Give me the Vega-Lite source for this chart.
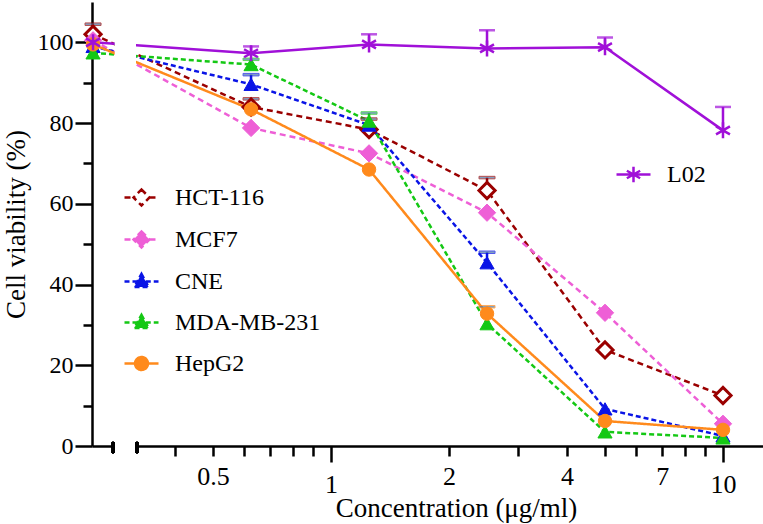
{
  "$schema": "https://vega.github.io/schema/vega-lite/v6.json",
  "width": 671,
  "height": 444,
  "autosize": {"type": "none"},
  "padding": {"left": 92, "top": 2, "right": 0, "bottom": 78},
  "background": "white",
  "config": {
    "view": {"stroke": null},
    "font": "Liberation Serif, Times New Roman, serif",
    "axis": {
      "grid": false,
      "domainColor": "black",
      "domainWidth": 2.5,
      "tickColor": "black",
      "tickWidth": 2.5,
      "labelColor": "black",
      "titleColor": "black",
      "labelFont": "Liberation Serif, Times New Roman, serif",
      "titleFont": "Liberation Serif, Times New Roman, serif",
      "labelFontSize": 24,
      "titleFontSize": 27,
      "titleFontWeight": "normal"
    },
    "legend": {
      "orient": "none",
      "labelFont": "Liberation Serif, Times New Roman, serif",
      "labelFontSize": 24,
      "labelColor": "black",
      "padding": 0,
      "rowPadding": 10,
      "labelOffset": 15,
      "symbolStrokeWidth": 2.5,
      "symbolSize": 1156
    }
  },
  "data": {
    "values": [
      {"s": "HCT-116", "c": 0.247, "v": 102, "hi": 104.5},
      {"s": "HCT-116", "c": 0.625, "v": 84, "hi": 86},
      {"s": "HCT-116", "c": 1.25, "v": 78.4, "hi": 81},
      {"s": "HCT-116", "c": 2.5, "v": 63.3, "hi": 66.5},
      {"s": "HCT-116", "c": 5, "v": 23.8},
      {"s": "HCT-116", "c": 10, "v": 12.5},
      {"s": "MCF7", "c": 0.247, "v": 100.5},
      {"s": "MCF7", "c": 0.625, "v": 78.8},
      {"s": "MCF7", "c": 1.25, "v": 72.5},
      {"s": "MCF7", "c": 2.5, "v": 57.8},
      {"s": "MCF7", "c": 5, "v": 33},
      {"s": "MCF7", "c": 10, "v": 5.5},
      {"s": "CNE", "c": 0.247, "v": 99},
      {"s": "CNE", "c": 0.625, "v": 89.6, "hi": 92},
      {"s": "CNE", "c": 1.25, "v": 79.5},
      {"s": "CNE", "c": 2.5, "v": 45.4, "hi": 48},
      {"s": "CNE", "c": 5, "v": 9.2},
      {"s": "CNE", "c": 10, "v": 2.5},
      {"s": "MDA-MB-231", "c": 0.247, "v": 97.4},
      {"s": "MDA-MB-231", "c": 0.625, "v": 94.5, "hi": 95.8},
      {"s": "MDA-MB-231", "c": 1.25, "v": 80.5, "hi": 82.5},
      {"s": "MDA-MB-231", "c": 2.5, "v": 30.3},
      {"s": "MDA-MB-231", "c": 5, "v": 3.5},
      {"s": "MDA-MB-231", "c": 10, "v": 2},
      {"s": "HepG2", "c": 0.247, "v": 99.5},
      {"s": "HepG2", "c": 0.625, "v": 83.4},
      {"s": "HepG2", "c": 1.25, "v": 68.5},
      {"s": "HepG2", "c": 2.5, "v": 32.8, "hi": 34.5},
      {"s": "HepG2", "c": 5, "v": 6.2},
      {"s": "HepG2", "c": 10, "v": 4},
      {"s": "L02", "c": 0.247, "v": 100},
      {"s": "L02", "c": 0.625, "v": 97.3, "hi": 99},
      {"s": "L02", "c": 1.25, "v": 99.5, "hi": 102},
      {"s": "L02", "c": 2.5, "v": 98.5, "hi": 103},
      {"s": "L02", "c": 5, "v": 98.8, "hi": 101.2},
      {"s": "L02", "c": 10, "v": 78.2, "hi": 84}
    ]
  },
  "encoding": {
    "x": {
      "field": "c",
      "type": "quantitative",
      "scale": {"type": "log", "domain": [0.2455, 12.65], "nice": false},
      "axis": {
        "title": "Concentration (μg/ml)",
        "values": [0.4, 0.5, 0.6, 0.7, 0.8, 0.9, 1, 2, 3, 4, 5, 6, 7, 8, 9, 10],
        "labelExpr": "indexof([0.5, 1, 2, 4, 7, 10], datum.value) >= 0 ? '' + datum.value : ''",
        "labelFontSize": 26,
        "tickSize": {"condition": {"test": "datum.value == 1 || datum.value == 10", "value": 16}, "value": 10},
        "labelPadding": {"condition": {"test": "datum.value == 1 || datum.value == 10", "value": 9}, "value": 7},
        "labelFlush": false,
        "labelOverlap": false,
        "titleX": 364,
        "titleY": 70,
        "titleAnchor": null,
        "titleAlign": "center",
        "titleBaseline": "alphabetic"
      }
    },
    "y": {
      "field": "v",
      "type": "quantitative",
      "scale": {"domain": [0, 110], "nice": false},
      "axis": {
        "title": "Cell viability (%)",
        "values": [0, 10, 20, 30, 40, 50, 60, 70, 80, 90, 100],
        "labelExpr": "datum.value % 20 == 0 ? datum.label : ''",
        "tickSize": {"condition": {"test": "datum.value % 20 == 0", "value": 17}, "value": 9},
        "labelPadding": 2,
        "titlePadding": 7,
        "labelFlush": false,
        "labelOverlap": false
      }
    }
  },
  "layer": [
    {
      "transform": [{"filter": "datum.c < 0"}],
      "mark": {"type": "point", "filled": true, "strokeWidth": 2.5, "opacity": 1},
      "encoding": {
        "shape": {"field": "s", "type": "nominal",
          "scale": {"domain": ["HCT-116", "MCF7", "CNE", "MDA-MB-231", "HepG2"],
            "range": [
              "M-1,0H-0.47M0.47,0H1M0,-0.47L0.47,0L0,0.47L-0.47,0Z",
              "M-1,0H-0.47M0.47,0H1M0,-0.47L0.47,0L0,0.47L-0.47,0Z",
              "M-1,0H-0.25M0.25,0H1M0,-0.45L0.42,0.32L-0.42,0.32Z",
              "M-1,0H-0.25M0.25,0H1M0,-0.45L0.42,0.32L-0.42,0.32Z",
              "M-1,0H-0.38M0.38,0H1M0.38,0A0.38,0.38,0,1,1,-0.38,0A0.38,0.38,0,1,1,0.38,0Z"
            ]},
          "legend": {"title": null, "legendX": 31, "legendY": 177}},
        "fill": {"field": "s", "type": "nominal",
          "scale": {"domain": ["HCT-116", "MCF7", "CNE", "MDA-MB-231", "HepG2"], "range": ["#FFFFFF", "#EE5FD6", "#0A14E6", "#14C814", "#FF8A1C"]},
          "legend": {"title": null, "legendX": 31, "legendY": 177}},
        "stroke": {"field": "s", "type": "nominal",
          "scale": {"domain": ["HCT-116", "MCF7", "CNE", "MDA-MB-231", "HepG2"], "range": ["#9A0000", "#EE5FD6", "#0A14E6", "#14C814", "#FF8A1C"]},
          "legend": {"title": null, "legendX": 31, "legendY": 177}},
        "strokeDash": {"field": "s", "type": "nominal",
          "scale": {"domain": ["HCT-116", "MCF7", "CNE", "MDA-MB-231", "HepG2"], "range": [[6, 4], [6, 4], [5, 3], [5, 3], [1, 0]]},
          "legend": {"title": null, "legendX": 31, "legendY": 177}}
      }
    },
    {
      "transform": [{"filter": "datum.c < 0"}],
      "mark": {"type": "point", "filled": false, "strokeWidth": 2.5, "opacity": 1,
        "shape": "M-1,0H1M0,-0.45V0.45M-0.39,-0.22L0.39,0.22M-0.39,0.22L0.39,-0.22"},
      "encoding": {
        "color": {"field": "s", "type": "nominal",
          "scale": {"domain": ["L02"], "range": ["#A010D8"]},
          "legend": {"title": null, "legendX": 523, "legendY": 154,
            "symbolType": "M-1,0H1M0,-0.45V0.45M-0.39,-0.22L0.39,0.22M-0.39,0.22L0.39,-0.22",
            "symbolStrokeColor": "#A010D8", "symbolFillColor": "transparent"}}
      }
    },
    {
      "transform": [{"filter": "datum.s != 'L02'"}],
      "mark": {"type": "line", "strokeWidth": 2.5},
      "encoding": {
        "stroke": {"field": "s", "type": "nominal"},
        "strokeDash": {"field": "s", "type": "nominal"}
      }
    },
    {
      "transform": [{"filter": "datum.s == 'L02'"}],
      "mark": {"type": "line", "strokeWidth": 2.5, "color": "#A010D8"},
      "encoding": {}
    },
    {
      "mark": {"type": "rect", "fill": "white"},
      "encoding": {
        "x": {"datum": 0.281},
        "x2": {"datum": 0.317},
        "y": {"datum": -3},
        "y2": {"datum": 112}
      }
    },
    {
      "mark": {"type": "rule", "strokeWidth": 2.5, "color": "black"},
      "encoding": {"x": {"datum": 0.278}, "y": {"datum": -1.75}, "y2": {"datum": 1}}
    },
    {
      "mark": {"type": "rule", "strokeWidth": 2.5, "color": "black"},
      "encoding": {"x": {"datum": 0.32}, "y": {"datum": -1.75}, "y2": {"datum": 1}}
    },
    {
      "transform": [{"filter": "isValid(datum.hi) && datum.s != 'L02'"}],
      "mark": {"type": "rule", "strokeWidth": 2.5},
      "encoding": {
        "y2": {"field": "hi"},
        "stroke": {"field": "s", "type": "nominal"}
      }
    },
    {
      "transform": [{"filter": "isValid(datum.hi) && datum.s != 'L02'"}],
      "mark": {"type": "tick", "orient": "horizontal", "size": 16, "thickness": 2.5},
      "encoding": {
        "y": {"field": "hi", "type": "quantitative"},
        "stroke": {"field": "s", "type": "nominal"}
      }
    },
    {
      "transform": [{"filter": "isValid(datum.hi) && datum.s == 'L02'"}],
      "mark": {"type": "rule", "strokeWidth": 2.5, "color": "#A010D8"},
      "encoding": {"y2": {"field": "hi"}}
    },
    {
      "transform": [{"filter": "isValid(datum.hi) && datum.s == 'L02'"}],
      "mark": {"type": "tick", "orient": "horizontal", "size": 16, "thickness": 2.5, "color": "#A010D8"},
      "encoding": {"y": {"field": "hi", "type": "quantitative"}}
    },
    {
      "transform": [{"filter": "datum.s == 'HCT-116'"}],
      "mark": {"type": "point", "shape": "diamond", "filled": true, "size": 260, "strokeWidth": 3, "opacity": 1},
      "encoding": {
        "fill": {"field": "s", "type": "nominal"},
        "stroke": {"field": "s", "type": "nominal"}
      }
    },
    {
      "transform": [{"filter": "datum.s == 'MCF7'"}],
      "mark": {"type": "point", "shape": "diamond", "filled": true, "size": 300, "strokeWidth": 1, "opacity": 1},
      "encoding": {
        "fill": {"field": "s", "type": "nominal"},
        "stroke": {"field": "s", "type": "nominal"}
      }
    },
    {
      "transform": [{"filter": "datum.s == 'CNE' || datum.s == 'MDA-MB-231'"}],
      "mark": {"type": "point", "shape": "triangle-up", "filled": true, "size": 200, "strokeWidth": 1, "opacity": 1},
      "encoding": {
        "fill": {"field": "s", "type": "nominal"},
        "stroke": {"field": "s", "type": "nominal"}
      }
    },
    {
      "transform": [{"filter": "datum.s == 'HepG2'"}],
      "mark": {"type": "point", "shape": "circle", "filled": true, "size": 180, "strokeWidth": 1, "opacity": 1},
      "encoding": {
        "fill": {"field": "s", "type": "nominal"},
        "stroke": {"field": "s", "type": "nominal"}
      }
    },
    {
      "transform": [{"filter": "datum.s == 'L02'"}],
      "mark": {"type": "point", "shape": "M0,-1V1M-0.87,-0.5L0.87,0.5M-0.87,0.5L0.87,-0.5", "filled": false, "size": 256, "strokeWidth": 2.5, "color": "#A010D8", "opacity": 1},
      "encoding": {}
    }
  ]
}
